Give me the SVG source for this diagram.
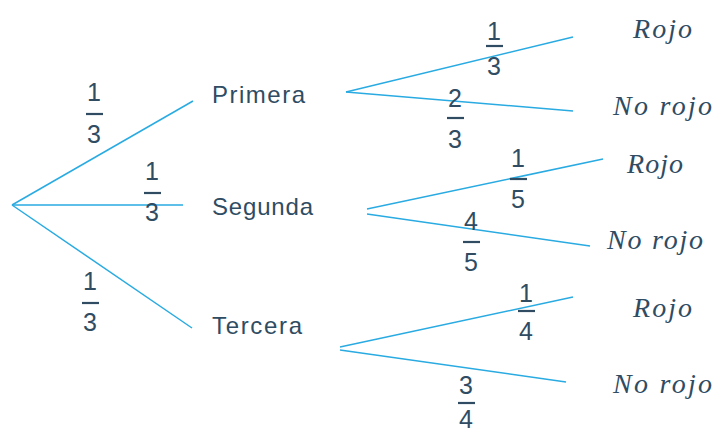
<svg xmlns="http://www.w3.org/2000/svg" width="716" height="433" viewBox="0 0 716 433">
  <style>
    .br { stroke: #29abe2; stroke-width: 1.5; fill: none; }
    .lbl { font-family: "Liberation Sans", Arial, sans-serif; font-size: 24px; fill: #2f4c63; }
    .num { font-family: "Liberation Sans", Arial, sans-serif; font-size: 25px; fill: #2f4c63; text-anchor: middle; }
    .bar { stroke: #2f4c63; stroke-width: 2.2; }
    .out { font-family: "Liberation Serif", "Times New Roman", serif; font-style: italic; font-size: 28px; fill: #2f4c63; }
  </style>
  <rect width="716" height="433" fill="#ffffff"/>

  <g id="connectors">
    <line class="br" x1="12" y1="205" x2="193" y2="101"/>
    <line class="br" x1="12" y1="205" x2="183" y2="205"/>
    <line class="br" x1="12" y1="205" x2="192" y2="328"/>
    <line class="br" x1="346" y1="92" x2="573" y2="37"/>
    <line class="br" x1="346" y1="92" x2="573" y2="111"/>
    <line class="br" x1="367" y1="209" x2="603" y2="159"/>
    <line class="br" x1="367" y1="214" x2="590" y2="246"/>
    <line class="br" x1="340" y1="347" x2="573" y2="297"/>
    <line class="br" x1="340" y1="350" x2="566" y2="382"/>
  </g>

  <g id="p-primera">
    <text class="num" x="94" y="101">1</text>
    <line class="bar" x1="86" y1="114" x2="103" y2="114"/>
    <text class="num" x="94" y="143">3</text>
  </g>
  <g id="p-segunda">
    <text class="num" x="152" y="180">1</text>
    <line class="bar" x1="144" y1="193" x2="161" y2="193"/>
    <text class="num" x="152" y="221">3</text>
  </g>
  <g id="p-tercera">
    <text class="num" x="90" y="290">1</text>
    <line class="bar" x1="82" y1="303" x2="99" y2="303"/>
    <text class="num" x="90" y="331">3</text>
  </g>

  <g id="primera">
    <text class="lbl" x="212" y="103" textLength="93">Primera</text>
  </g>
  <g id="segunda">
    <text class="lbl" x="212" y="215" textLength="101">Segunda</text>
  </g>
  <g id="tercera">
    <text class="lbl" x="212" y="334" textLength="90">Tercera</text>
  </g>

  <g id="p1-rojo">
    <text class="num" x="494" y="40">1</text>
    <line class="bar" x1="486" y1="46" x2="503" y2="46"/>
    <text class="num" x="494" y="75">3</text>
  </g>
  <g id="p1-norojo">
    <text class="num" x="455" y="107">2</text>
    <line class="bar" x1="447" y1="118" x2="464" y2="118"/>
    <text class="num" x="455" y="148">3</text>
  </g>
  <g id="p2-rojo">
    <text class="num" x="518" y="167">1</text>
    <line class="bar" x1="510" y1="179" x2="527" y2="179"/>
    <text class="num" x="518" y="208">5</text>
  </g>
  <g id="p2-norojo">
    <text class="num" x="471" y="230">4</text>
    <line class="bar" x1="463" y1="242" x2="480" y2="242"/>
    <text class="num" x="471" y="271">5</text>
  </g>
  <g id="p3-rojo">
    <text class="num" x="526" y="302">1</text>
    <line class="bar" x1="518" y1="311" x2="535" y2="311"/>
    <text class="num" x="526" y="340">4</text>
  </g>
  <g id="p3-norojo">
    <text class="num" x="466" y="394">3</text>
    <line class="bar" x1="458" y1="403" x2="475" y2="403"/>
    <text class="num" x="466" y="428">4</text>
  </g>

  <g id="rojo-1"><text class="out" x="633" y="38" textLength="59">Rojo</text></g>
  <g id="norojo-1"><text class="out" x="613" y="115" textLength="99">No rojo</text></g>
  <g id="rojo-2"><text class="out" x="627" y="173" textLength="56">Rojo</text></g>
  <g id="norojo-2"><text class="out" x="607" y="249" textLength="96">No rojo</text></g>
  <g id="rojo-3"><text class="out" x="633" y="317" textLength="59">Rojo</text></g>
  <g id="norojo-3"><text class="out" x="613" y="393" textLength="99">No rojo</text></g>
</svg>
